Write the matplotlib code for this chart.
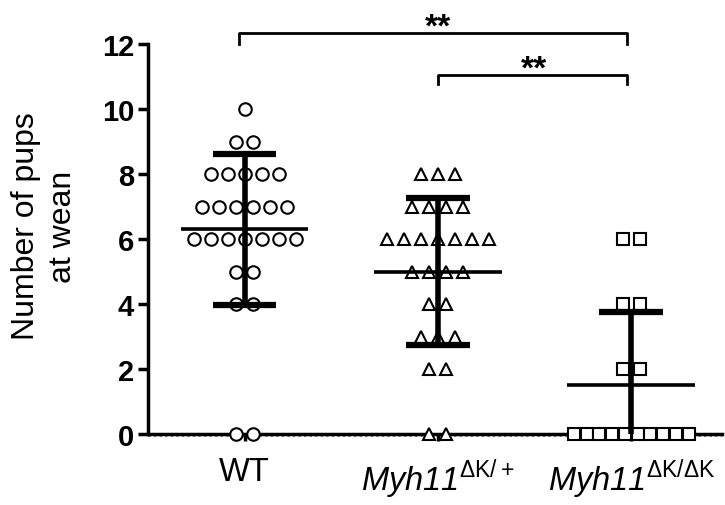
import numpy as np
import matplotlib
matplotlib.use("Agg")
import matplotlib.pyplot as plt

plt.rcParams['font.family'] = 'Liberation Sans'
plt.rcParams['mathtext.fontset'] = 'custom'
plt.rcParams['mathtext.rm'] = 'Liberation Sans'
plt.rcParams['mathtext.sf'] = 'Liberation Sans:italic'

# pups at wean, one value per litter
wt = [10, 9, 9, 8, 8, 8, 8, 8, 7, 7, 7, 7, 7, 7,
      6, 6, 6, 6, 6, 6, 6, 5, 5, 4, 4, 0, 0]
het = [8, 8, 8, 7, 7, 7, 7, 6, 6, 6, 6, 6, 6, 6,
       5, 5, 5, 5, 4, 4, 3, 3, 3, 2, 2, 0, 0]
hom = [6, 6, 4, 4, 2, 2, 0, 0, 0, 0, 0, 0, 0, 0, 0, 0]

groups = [wt, het, hom]
labels = ['WT', r'$\mathsf{Myh11}^{\rm \Delta K/+}$', r'$\mathsf{Myh11}^{\rm \Delta K/\Delta K}$']
markers = ['o', '^', 's']
yticks = [0, 2, 4, 6, 8, 10, 12]
sig = ['**', '**']

fig = plt.figure(figsize=(7.25, 5.06), dpi=100)
ax = fig.add_axes([0.204, 0.140, 0.792, 0.771])

for i, vals in enumerate(groups):
    vals = np.array(vals)
    # scatter points laid out in rows, like a GraphPad dot plot
    for v in np.unique(vals):
        n = np.sum(vals == v)
        step = min(0.088, 0.66 / n)
        xs = i + (np.arange(n) - (n - 1) / 2) * step
        ax.plot(xs, [v] * n, linestyle='none', marker=markers[i], ms=9 if markers[i] != 's' else 8.5,
                mfc='white', mec='black', mew=1.5, clip_on=False, zorder=3)
    m = vals.mean()
    sd = vals.std(ddof=1)
    ax.plot([i - 0.33, i + 0.33], [m, m], color='black', lw=2.6, zorder=4, solid_capstyle='butt')
    ax.plot([i, i], [m - sd, m + sd], color='black', lw=4, zorder=4, solid_capstyle='butt')
    for y in [m - sd, m + sd]:
        ax.plot([i - 0.165, i + 0.165], [y, y], color='black', lw=4.5, zorder=4, solid_capstyle='butt')

# significance brackets
ax.plot([-0.03, -0.03, 1.98, 1.98], [12.0, 12.34, 12.34, 12.0], color='black', lw=2, clip_on=False)
ax.plot([1, 1, 1.98, 1.98], [10.77, 11.05, 11.05, 10.77], color='black', lw=2, clip_on=False)
ax.text(1.0, 12.25, sig[0], ha='center', va='baseline', fontsize=24, fontweight='bold')
ax.text(1.495, 10.97, sig[1], ha='center', va='baseline', fontsize=24, fontweight='bold')

# faint dashes just under the x axis
ax.plot([-0.5, 2.47], [-0.07, -0.07], color='gray', lw=0.8, ls=(0, (2, 3)), clip_on=False, zorder=1)

ax.set_xlim(-0.5, 2.47)
ax.set_ylim(0, 12)
ax.set_yticks(yticks)
ax.set_yticklabels([str(t) for t in yticks], fontsize=21, fontweight='bold')
ax.set_xticks(range(3))
ax.set_xticklabels(labels, fontsize=23.5)
ax.tick_params(axis='y', width=2.5, length=7, pad=3)
ax.tick_params(axis='x', width=2.5, length=5, pad=11)
ax.set_ylabel('Number of pups\nat wean', fontsize=23, linespacing=1.3)
ax.yaxis.set_label_coords(-0.122, 0.535)

for s in ['top', 'right']:
    ax.spines[s].set_visible(False)
ax.spines['left'].set_linewidth(2.5)
ax.spines['bottom'].set_linewidth(2.5)
ax.spines['bottom'].set_zorder(2)

fig.savefig('out.png', dpi=100)
